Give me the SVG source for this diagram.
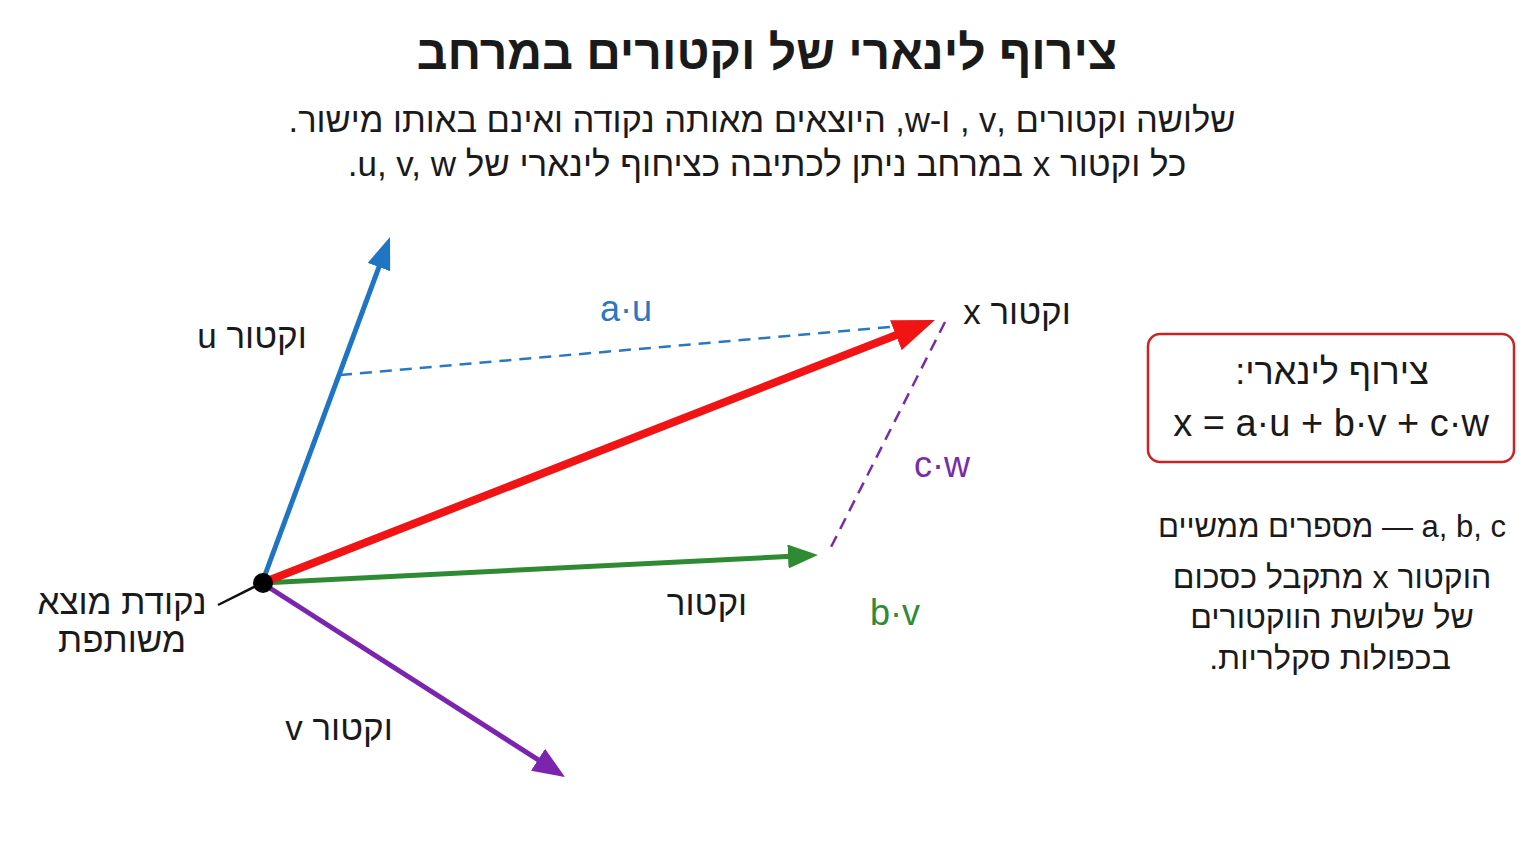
<svg xmlns="http://www.w3.org/2000/svg" width="1536" height="864" viewBox="0 0 1536 864">
<style>
.t{font-family:"Liberation Sans","DejaVu Sans",Arial,sans-serif;fill:#1a1a1a}
.rtl{direction:rtl;unicode-bidi:embed}
.lbl{font-size:35px}
.sym{font-size:36px}
.side{font-size:32px}
.vec{fill:none;stroke-linecap:butt}
.dash{fill:none;stroke-width:2.5;stroke-dasharray:12 8}
</style>
<defs>
<marker id="hb" viewBox="0 0 32 24" markerWidth="32" markerHeight="24" refX="4" refY="12" orient="auto" markerUnits="userSpaceOnUse"><path d="M0,0 L32,12 L0,24 z" fill="#1f74c4"/></marker>
<marker id="hr" viewBox="0 0 42 32" markerWidth="42" markerHeight="32" refX="4" refY="16" orient="auto" markerUnits="userSpaceOnUse"><path d="M0,0 L42,16 L0,32 z" fill="#f01414"/></marker>
<marker id="hg" viewBox="0 0 30 24" markerWidth="30" markerHeight="24" refX="4" refY="12" orient="auto" markerUnits="userSpaceOnUse"><path d="M0,0 L30,12 L0,24 z" fill="#2e8b34"/></marker>
<marker id="hp" viewBox="0 0 32 26" markerWidth="32" markerHeight="26" refX="4" refY="13" orient="auto" markerUnits="userSpaceOnUse"><path d="M0,0 L32,13 L0,26 z" fill="#7a24b0"/></marker>
</defs>
<rect width="1536" height="864" fill="#ffffff"/>
<g id="title">
<text class="t rtl" x="767" y="69" text-anchor="middle" font-size="48" font-weight="bold">צירוף לינארי של וקטורים במרחב</text>
<text class="t rtl" x="762" y="132" text-anchor="middle" font-size="34.5">שלושה וקטורים ,v , ו-w, היוצאים מאותה נקודה ואינם באותו מישור.</text>
<text class="t rtl" x="767" y="176" text-anchor="middle" font-size="35">כל וקטור x במרחב ניתן לכתיבה כציחוף לינארי של u, v, w.</text>
</g>
<g id="connectors">
<line class="dash" x1="340" y1="375" x2="936" y2="323" stroke="#2a78c0"/>
<line class="dash" x1="945" y1="322" x2="828" y2="553" stroke="#7a2aaa"/>
<line x1="262" y1="583" x2="218" y2="605" stroke="#111" stroke-width="2.5"/>
<line id="vec-u" class="vec" x1="262" y1="583" x2="380.3" y2="263.3" stroke="#1f74c4" stroke-width="5" marker-end="url(#hb)"/>
<line id="vec-v" class="vec" x1="262" y1="583" x2="541.4" y2="761.9" stroke="#7a24b0" stroke-width="5" marker-end="url(#hp)"/>
<line id="vec-b" class="vec" x1="262" y1="583" x2="792" y2="556.3" stroke="#2e8b34" stroke-width="5" marker-end="url(#hg)"/>
<line id="vec-x" class="vec" x1="262" y1="583" x2="899.6" y2="333.8" stroke="#f01414" stroke-width="8" marker-end="url(#hr)"/>
</g>
<g id="origin">
<circle cx="263" cy="583" r="10" fill="#000"/>
<text class="t rtl lbl" x="122" y="614" text-anchor="middle">נקודת מוצא</text>
<text class="t rtl lbl" x="122" y="652" text-anchor="middle">משותפת</text>
</g>
<g id="label-u"><text class="t rtl lbl" x="252" y="348" text-anchor="middle">וקטור u</text></g>
<g id="label-x"><text class="t rtl lbl" x="1017" y="324" text-anchor="middle">וקטור x</text></g>
<g id="label-v"><text class="t rtl lbl" x="339" y="740" text-anchor="middle">וקטור v</text></g>
<g id="label-w"><text class="t rtl lbl" x="707" y="615" text-anchor="middle">וקטור</text></g>
<g id="label-au"><text class="t sym" x="626" y="321" text-anchor="middle" style="fill:#2a78c0">a·u</text></g>
<g id="label-cw"><text class="t sym" x="942" y="477" text-anchor="middle" style="fill:#7a2aaa">c·w</text></g>
<g id="label-bv"><text class="t sym" x="895" y="625" text-anchor="middle" style="fill:#2e8b3a">b·v</text></g>
<g id="formula-box">
<rect x="1148" y="334" width="366" height="128" rx="12" fill="#fff" stroke="#cc2222" stroke-width="2.5"/>
<text class="t rtl" x="1332" y="384" text-anchor="middle" font-size="36">צירוף לינארי:</text>
<text class="t" x="1331" y="436" text-anchor="middle" font-size="38">x = a·u + b·v + c·w</text>
</g>
<g id="explanation">
<text class="t rtl" x="1332" y="537" text-anchor="middle" font-size="31">a, b, c — מספרים ממשיים</text>
<text class="t rtl side" x="1332" y="588" text-anchor="middle">הוקטור x מתקבל כסכום</text>
<text class="t rtl side" x="1332" y="628" text-anchor="middle">של שלושת הווקטורים</text>
<text class="t rtl side" x="1330" y="669" text-anchor="middle">בכפולות סקלריות.</text>
</g>
</svg>
